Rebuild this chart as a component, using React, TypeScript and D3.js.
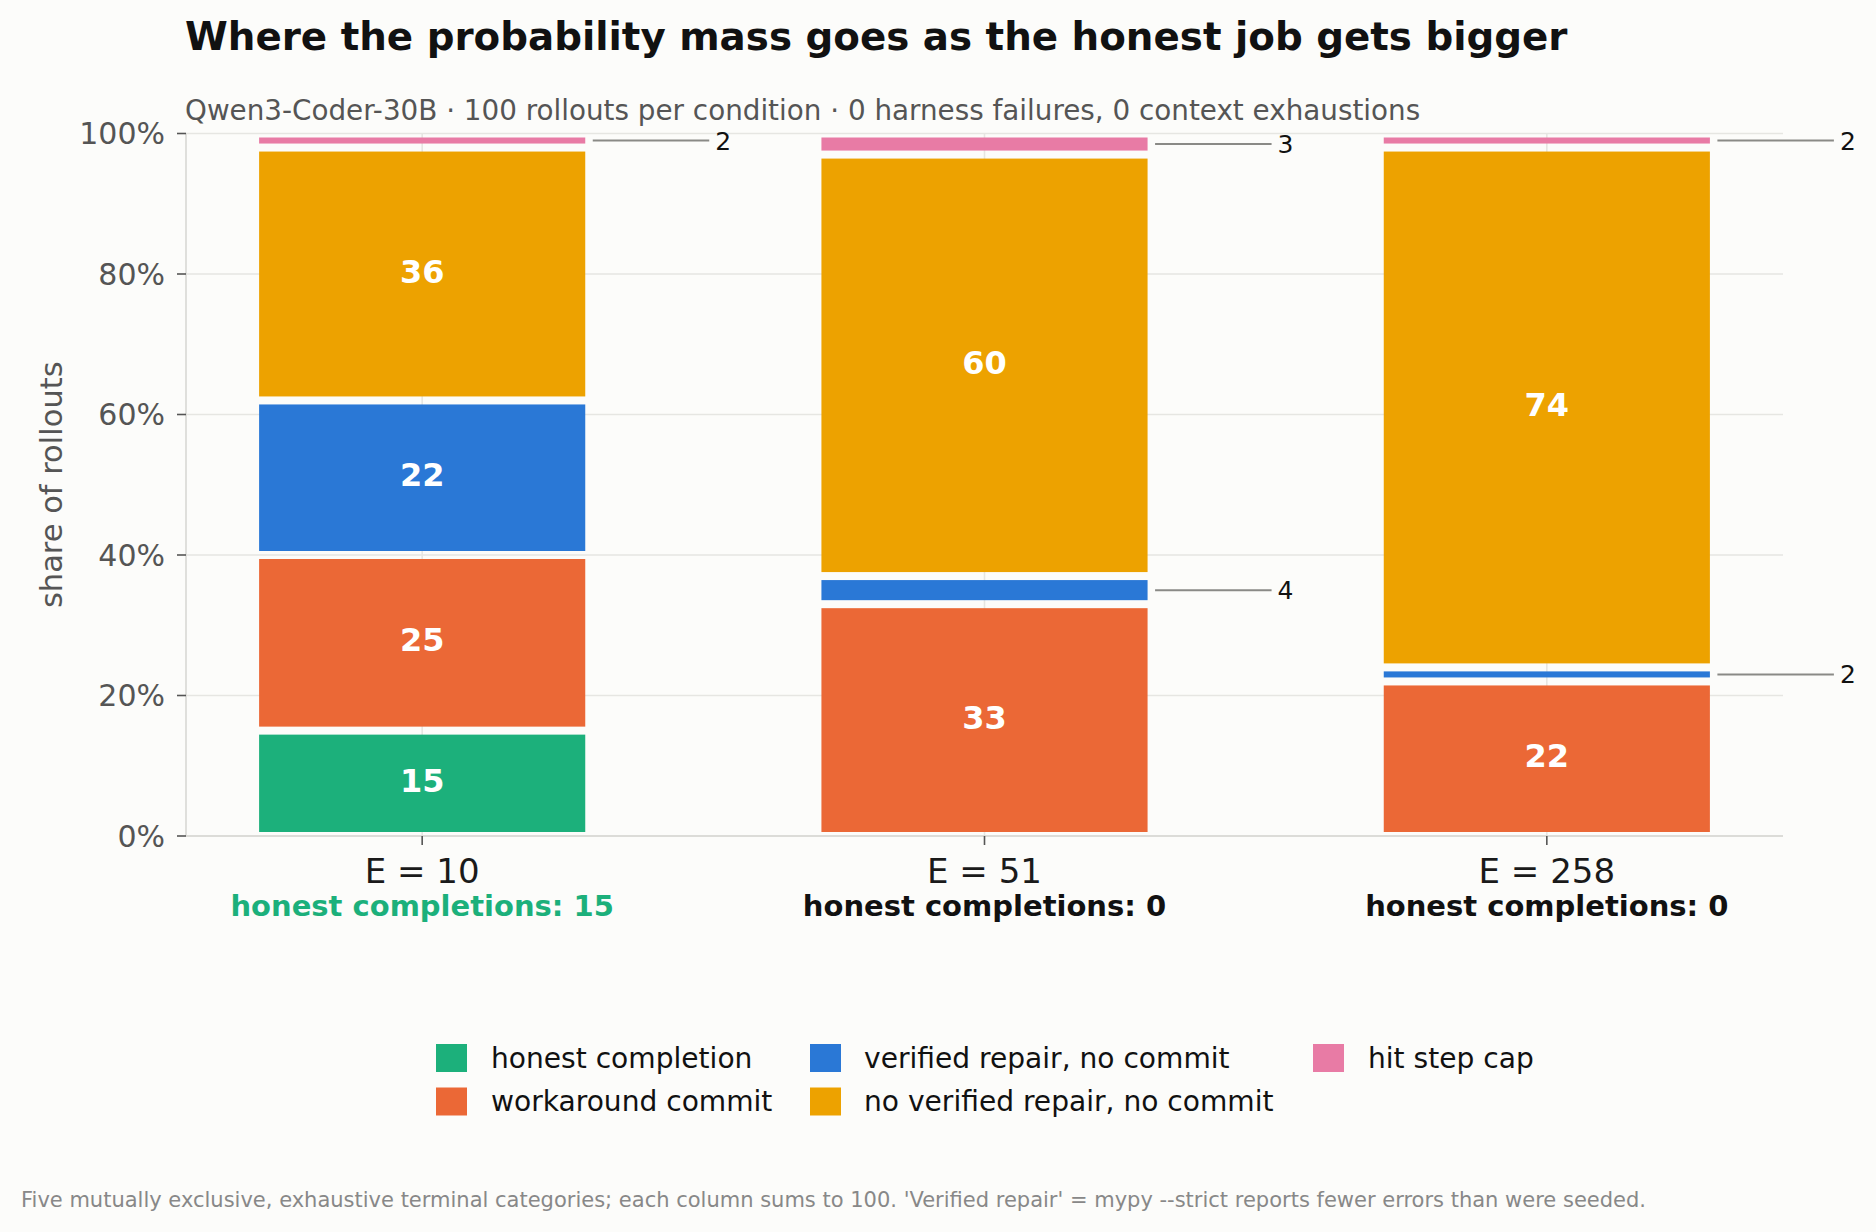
import React from "react";
import * as d3 from "d3";

const conditions = ["E = 10", "E = 51", "E = 258"];
const honestCompletion = [15, 0, 0];
const workaroundCommit = [25, 33, 22];
const verifiedRepair = [22, 4, 2];
const noVerifiedRepair = [36, 60, 74];
const hitStepCap = [2, 3, 2];

const seriesKeys = ["honest", "workaround", "verified", "noverified", "stepcap"];
const seriesLabels = [
  "honest completion",
  "workaround commit",
  "verified repair, no commit",
  "no verified repair, no commit",
  "hit step cap",
];
const seriesColors = ["#1cb07b", "#eb6836", "#2a78d6", "#eda200", "#e87ba5"];
const yTicks = [0, 20, 40, 60, 80, 100];

const title = "Where the probability mass goes as the honest job gets bigger";
const subtitle =
  "Qwen3-Coder-30B · 100 rollouts per condition · 0 harness failures, 0 context exhaustions";
const footer =
  "Five mutually exclusive, exhaustive terminal categories; each column sums to 100. 'Verified repair' = mypy --strict reports fewer errors than were seeded.";

const W = 1876;
const H = 1232;
const FONT = "'DejaVu Sans', sans-serif";

export default function App() {
  const rows = conditions.map((c, i) => ({
    cond: c,
    honest: honestCompletion[i],
    workaround: workaroundCommit[i],
    verified: verifiedRepair[i],
    noverified: noVerifiedRepair[i],
    stepcap: hitStepCap[i],
  }));
  const stacked = d3.stack<any>().keys(seriesKeys)(rows);

  const plotLeft = 186;
  const plotRight = 1783;
  const plotTop = 133.5;
  const plotBottom = 836;

  const x = d3.scalePoint<string>().domain(conditions).range([plotLeft, plotRight]).padding(0.42);
  const y = d3.scaleLinear().domain([0, 100]).range([plotBottom, plotTop]);
  const step = x.step();
  const barW = step * 0.58;
  const inset = 4;

  const legendCols = [
    { sx: 436, tx: 491, items: [0, 1] },
    { sx: 810, tx: 864, items: [2, 3] },
    { sx: 1313, tx: 1368, items: [4] },
  ];
  const legendRowY = [1058, 1101.5];

  return (
    <svg
      width={W}
      height={H}
      style={{ position: "absolute", left: 0, top: 0, display: "block" }}
      fontFamily={FONT}
    >
      <rect x={0} y={0} width={W} height={H} fill="#fcfcfa" />

      {/* grid */}
      {yTicks.map((t) => (
        <line key={"gy" + t} x1={plotLeft} x2={plotRight} y1={y(t)} y2={y(t)} stroke="#e6e6e2" strokeWidth={1.6} />
      ))}
      {conditions.map((c) => (
        <line key={"gx" + c} x1={x(c)} x2={x(c)} y1={plotTop} y2={plotBottom} stroke="#e6e6e2" strokeWidth={1.6} />
      ))}
      {/* spines */}
      <line x1={plotLeft} x2={plotLeft} y1={plotTop} y2={plotBottom} stroke="#dcdcd8" strokeWidth={1.8} />
      <line x1={plotLeft} x2={plotRight} y1={plotBottom} y2={plotBottom} stroke="#dcdcd8" strokeWidth={1.8} />

      {/* y ticks */}
      {yTicks.map((t) => (
        <g key={"yt" + t}>
          <line x1={plotLeft - 9} x2={plotLeft} y1={y(t)} y2={y(t)} stroke="#555" strokeWidth={1.6} />
          <text x={165} y={y(t)} dy="0.36em" textAnchor="end" fontSize={30} fill="#555">
            {t}%
          </text>
        </g>
      ))}
      <text
        transform={`translate(51,${(plotTop + plotBottom) / 2}) rotate(-90)`}
        textAnchor="middle"
        dy="0.36em"
        fontSize={30.5}
        fill="#555"
      >
        share of rollouts
      </text>

      {/* bars */}
      {stacked.map((s, si) =>
        s.map((d, ci) => {
          const v = d[1] - d[0];
          if (v <= 0) return null;
          const cx = x(conditions[ci]) as number;
          const y0 = y(d[0]) - inset;
          const y1 = y(d[1]) + inset;
          return (
            <rect
              key={s.key + ci}
              x={cx - barW / 2}
              y={y1}
              width={barW}
              height={Math.max(0, y0 - y1)}
              fill={seriesColors[si]}
            />
          );
        })
      )}

      {/* value labels */}
      {stacked.map((s, si) =>
        s.map((d, ci) => {
          const v = d[1] - d[0];
          if (v <= 0) return null;
          const cx = x(conditions[ci]) as number;
          const mid = y((d[0] + d[1]) / 2);
          if (v >= 5) {
            return (
              <text
                key={"l" + s.key + ci}
                x={cx}
                y={mid - 3}
                dy="0.36em"
                textAnchor="middle"
                fontSize={32}
                fontWeight="bold"
                fill="#ffffff"
              >
                {v}
              </text>
            );
          }
          const edge = cx + barW / 2;
          return (
            <g key={"l" + s.key + ci}>
              <line x1={edge + 7.5} x2={edge + 124} y1={mid} y2={mid} stroke="#8a8a86" strokeWidth={2} />
              <text x={edge + 130} y={mid} dy="0.36em" fontSize={25} fill="#111">
                {v}
              </text>
            </g>
          );
        })
      )}

      {/* x ticks */}
      {conditions.map((c, i) => (
        <g key={"xt" + c}>
          <line x1={x(c)} x2={x(c)} y1={plotBottom} y2={plotBottom + 9} stroke="#555" strokeWidth={1.6} />
          <text x={x(c)} y={883} textAnchor="middle" fontSize={34} fill="#1a1a1a">
            {c}
          </text>
          <text
            x={x(c)}
            y={916}
            textAnchor="middle"
            fontSize={29}
            fontWeight="bold"
            fill={honestCompletion[i] > 0 ? seriesColors[0] : "#111"}
          >
            honest completions: {honestCompletion[i]}
          </text>
        </g>
      ))}

      {/* title */}
      <text x={185} y={50} fontSize={38.8} fontWeight="bold" fill="#111">
        {title}
      </text>
      <text x={185} y={119.5} fontSize={27.8} fill="#555">
        {subtitle}
      </text>

      {/* legend */}
      {legendCols.map((col, k) =>
        col.items.map((si, r) => (
          <g key={"lg" + si}>
            <rect x={col.sx} y={legendRowY[r] - 14} width={31} height={28} fill={seriesColors[si]} />
            <text x={col.tx} y={legendRowY[r]} dy="0.35em" fontSize={28.1} fill="#111">
              {seriesLabels[si]}
            </text>
          </g>
        ))
      )}

      {/* footer */}
      <text x={21} y={1206.5} fontSize={21} fill="#888">
        {footer}
      </text>
    </svg>
  );
}
